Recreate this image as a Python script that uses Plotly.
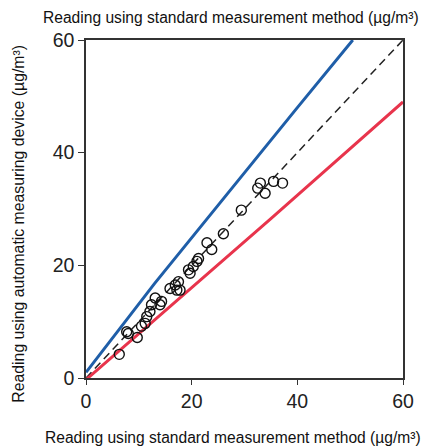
import plotly.graph_objects as go

# Measured points (standard method vs automatic device)
std_x = [6.3, 7.7, 8.0, 9.7, 10.5, 11.2, 11.5, 12.1, 12.4, 13.1, 14.0, 14.3, 15.9, 16.9,
         17.5, 17.2, 17.8, 19.4, 19.7, 20.3, 21.0, 21.3, 22.9, 23.8, 26.0, 29.4, 32.5,
         33.0, 33.9, 35.5, 37.2]
auto_y = [4.2, 8.2, 7.9, 7.2, 9.2, 9.7, 10.9, 11.8, 13.0, 14.2, 13.0, 13.6, 15.9, 16.5,
          17.1, 15.6, 15.6, 19.2, 18.6, 19.8, 20.7, 21.2, 24.0, 22.8, 25.6, 29.8, 33.7,
          34.6, 32.8, 34.9, 34.6]

# Upper (blue) and lower (red) limit lines
upper_x = [0, 13, 40, 50.5]
upper_y = [1.0, 16.8, 48.0, 60.0]
lower_x = [0, 35, 60]
lower_y = [-0.3, 28.3, 49.0]

# 1:1 line
ref_x = [0, 60]
ref_y = [0, 60]

x_ticks = [0, 20, 40, 60]
y_ticks = [0, 20, 40, 60]

title_x = "Reading using standard measurement method (µg/m³)"
title_y = "Reading using automatic measuring device (µg/m³)"

FONT = "Liberation Sans, Arial, sans-serif"

fig = go.Figure()
fig.add_trace(go.Scatter(x=ref_x, y=ref_y, mode="lines",
                         line=dict(color="#222222", width=1.5, dash="8px,5px"),
                         showlegend=False, hoverinfo="skip"))
fig.add_trace(go.Scatter(x=upper_x, y=upper_y, mode="lines",
                         line=dict(color="#1f5ea8", width=3),
                         showlegend=False))
fig.add_trace(go.Scatter(x=lower_x, y=lower_y, mode="lines",
                         line=dict(color="#e8344c", width=3),
                         showlegend=False, cliponaxis=False))
fig.add_trace(go.Scatter(x=std_x, y=auto_y, mode="markers",
                         marker=dict(symbol="circle-open", size=10,
                                     color="#111111", line=dict(width=1.4, color="#111111")),
                         showlegend=False))

fig.update_layout(
    width=422, height=440,
    margin=dict(l=78, r=27, t=32, b=70),
    paper_bgcolor="white", plot_bgcolor="white",
    font=dict(family=FONT, color="#222222"),
    xaxis=dict(range=[0, 60], tickvals=x_ticks, ticks="outside", ticklen=5,
               tickwidth=1.3, tickcolor="#333333",
               showline=True, linecolor="#333333", linewidth=1.5, mirror=True,
               showgrid=False, zeroline=False,
               tickfont=dict(size=19.5, family=FONT, color="#222222")),
    yaxis=dict(range=[0, 60], tickvals=y_ticks, ticks="outside", ticklen=6,
               tickwidth=1.3, tickcolor="#333333",
               showline=True, linecolor="#333333", linewidth=1.5, mirror=True,
               showgrid=False, zeroline=False,
               tickfont=dict(size=19.5, family=FONT, color="#222222")),
    annotations=[
        dict(text=title_x, xref="paper", yref="paper", x=0.458, y=1.066,
             xanchor="center", yanchor="middle", showarrow=False,
             font=dict(size=15.6, family=FONT, color="#111111")),
        dict(text=title_x, xref="paper", yref="paper", x=0.465, y=-0.175,
             xanchor="center", yanchor="middle", showarrow=False,
             font=dict(size=15.6, family=FONT, color="#111111")),
        dict(text=title_y, xref="paper", yref="paper", x=-0.212, y=0.456,
             xanchor="center", yanchor="middle", showarrow=False, textangle=-90,
             font=dict(size=15.8, family=FONT, color="#111111")),
    ],
)

fig.write_html("out.html")
